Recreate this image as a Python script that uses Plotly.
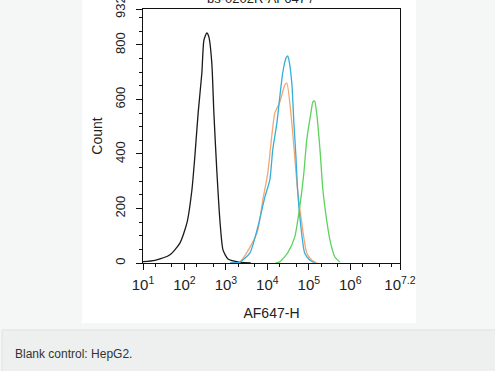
import plotly.graph_objects as go

# log10(AF647-H) positions and counts
black_x = [1.00, 1.29, 1.65, 1.89, 2.06, 2.18, 2.25, 2.33, 2.42, 2.47, 2.54, 2.59, 2.66, 2.71, 2.78, 2.86, 2.93, 3.05, 3.34, 3.60]
black_y = [5, 10, 30, 73, 147, 268, 389, 550, 697, 818, 844, 829, 734, 550, 341, 147, 48, 15, 3, 0]

orange_x = [3.10, 3.34, 3.75, 3.89, 4.01, 4.18, 4.30, 4.42, 4.47, 4.59, 4.66, 4.73, 4.83, 4.95, 5.07, 5.20]
orange_y = [0, 4, 110, 231, 330, 550, 590, 653, 660, 514, 389, 268, 147, 37, 11, 0]

blue_x = [3.10, 3.34, 3.58, 3.77, 3.94, 4.06, 4.13, 4.23, 4.30, 4.37, 4.45, 4.49, 4.52, 4.59, 4.64, 4.69, 4.73, 4.81, 4.90, 5.02, 5.15]
blue_y = [0, 4, 37, 132, 242, 305, 415, 514, 609, 697, 752, 760, 745, 660, 514, 389, 268, 132, 37, 11, 0]

green_x = [4.20, 4.30, 4.49, 4.66, 4.78, 4.88, 4.95, 5.05, 5.10, 5.14, 5.19, 5.27, 5.34, 5.43, 5.51, 5.63, 5.75]
green_y = [0, 4, 37, 95, 205, 330, 451, 550, 591, 594, 550, 415, 268, 158, 84, 22, 4]

x_tick_vals = [10, 100, 1000, 10000, 100000, 1000000, 10 ** 7.2]
x_tick_text = ["10<sup>1</sup>", "10<sup>2</sup>", "10<sup>3</sup>", "10<sup>4</sup>",
               "10<sup>5</sup>", "10<sup>6</sup>", "10<sup>7.2</sup>"]
y_tick_vals = [0, 200, 400, 600, 800, 932]
y_tick_text = ["0", "200", "400", "600", "800", "932"]

series = [
    (black_x, black_y, "#1a1a1a"),
    (orange_x, orange_y, "#f2a872"),
    (blue_x, blue_y, "#35aedb"),
    (green_x, green_y, "#5cd35c"),
]

L, T, W, H = 143, 9, 257, 254  # plot box in pixels


def px(x):
    return (x - L) / W


def py(y):
    return (T + H - y) / H


fig = go.Figure()
for xs, ys, col in series:
    fig.add_trace(go.Scatter(
        x=[10 ** v for v in xs], y=ys, mode="lines",
        line=dict(color=col, width=1.3, shape="spline", smoothing=0.6),
        showlegend=False, hoverinfo="skip"))

fig.update_layout(
    width=495, height=371,
    margin=dict(l=L, r=495 - L - W, t=T, b=371 - T - H),
    paper_bgcolor="#f5f6f6",
    plot_bgcolor="white",
    font=dict(family="Liberation Sans, Arial, sans-serif", color="#222", size=14),
    shapes=[
        dict(type="rect", xref="paper", yref="paper", layer="below",
             x0=px(82), x1=px(416), y0=py(323), y1=py(-5),
             fillcolor="white", line=dict(width=0)),
        dict(type="rect", xref="paper", yref="paper", layer="below",
             x0=px(2), x1=px(500), y0=py(375), y1=py(330),
             fillcolor="#eeefef", line=dict(color="#dfe1e1", width=1)),
    ],
    annotations=[
        dict(text="Blank control: HepG2.", xref="paper", yref="paper",
             x=px(13), y=py(354), xanchor="left", yanchor="middle",
             showarrow=False, font=dict(size=12, color="#333")),
        dict(text="bs-0202R-AF647 / <span style='color:#5cd35c'>—</span>",
             xref="paper", yref="paper", x=px(268), y=py(-2),
             xanchor="center", yanchor="middle", showarrow=False,
             font=dict(size=13, color="#222")),
    ],
)

fig.update_xaxes(
    type="log", range=[1, 7.2], automargin=False,
    tickvals=x_tick_vals, ticktext=x_tick_text,
    ticks="outside", ticklen=6, tickcolor="#111", ticklabelstandoff=2,
    minor=dict(ticks="outside", ticklen=3, tickcolor="#111", showgrid=False),
    showline=True, linecolor="#111", linewidth=1, mirror=True,
    showgrid=False, zeroline=False,
    title=dict(text="AF647-H", font=dict(size=14), standoff=16),
    tickfont=dict(size=15),
)
fig.update_yaxes(
    range=[0, 932], automargin=False, ticklabeloverflow="allow",
    tickvals=y_tick_vals, ticktext=y_tick_text, tickangle=-90,
    ticks="outside", ticklen=6, tickcolor="#111", ticklabelstandoff=6,
    minor=dict(tickvals=list(range(50, 932, 50)), ticks="outside", ticklen=3, tickcolor="#111", showgrid=False),
    showline=True, linecolor="#111", linewidth=1, mirror=True,
    showgrid=False, zeroline=False,
    title=dict(text="Count", font=dict(size=14), standoff=6),
    tickfont=dict(size=13),
)

fig.write_html("out.html", config={"displayModeBar": False},
               post_script="document.body.style.margin='0';")
